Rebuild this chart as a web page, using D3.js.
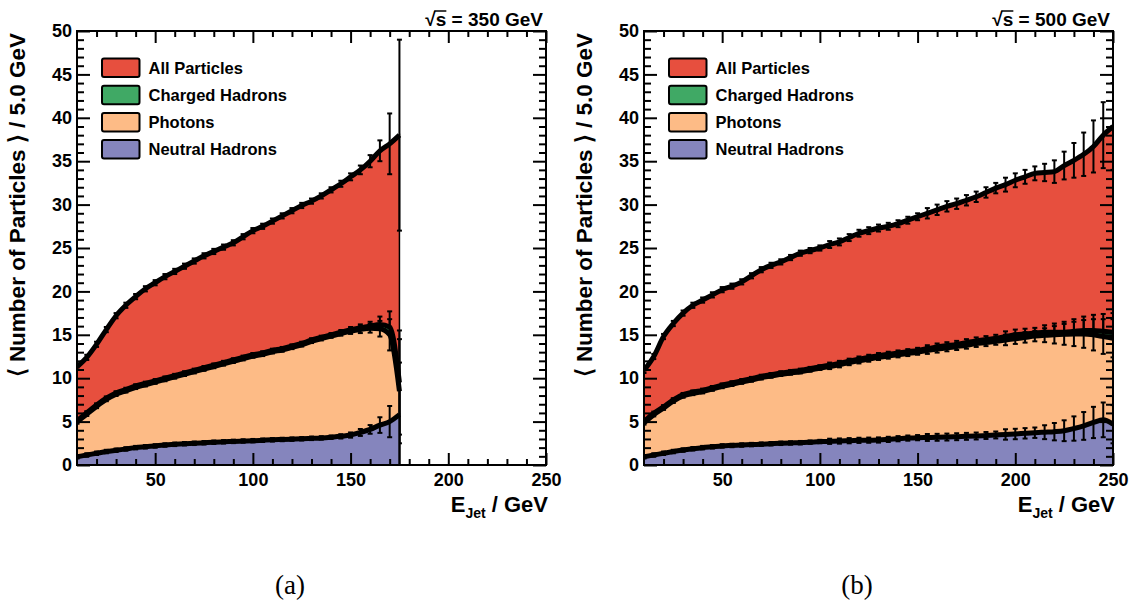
<!DOCTYPE html>
<html><head><meta charset="utf-8">
<script src="https://cdn.jsdelivr.net/npm/d3@7"></script>
<style>
html,body{margin:0;padding:0;background:#fff;}
svg{display:block;}
text{font-family:"Liberation Sans",Arial,Helvetica,sans-serif;font-weight:bold;fill:#000;}
</style></head><body>
<svg id="c" width="1135" height="602"></svg>
<script>
// ---------- data: panel (a), sqrt(s) = 350 GeV ----------
const energyA = [10,15,20,25,30,35,40,45,50,55,60,65,70,75,80,85,90,95,100,105,110,115,120,125,130,135,140,145,150,155,160,165,170,175];
const allA = [11.3,12.4,13.9,15.6,17.2,18.4,19.4,20.3,21.0,21.7,22.3,22.9,23.5,24.1,24.6,25.1,25.6,26.3,27.0,27.5,28.1,28.7,29.3,29.9,30.4,31.0,31.7,32.4,33.2,34.0,35.0,36.2,37.0,38.0];
const chargedA = [5.1,6.0,6.9,7.7,8.3,8.7,9.1,9.4,9.7,10.0,10.3,10.6,10.9,11.2,11.5,11.8,12.1,12.4,12.7,12.9,13.2,13.4,13.7,14.0,14.4,14.7,15.0,15.3,15.6,15.8,16.0,16.2,15.9,9.5];
const photonsA = [4.95,5.85,6.75,7.55,8.15,8.55,8.95,9.25,9.55,9.85,10.15,10.45,10.75,11.05,11.35,11.65,11.95,12.25,12.55,12.75,13.05,13.25,13.55,13.85,14.25,14.55,14.85,15.15,15.4,15.6,15.75,15.7,15.0,8.5];
const neutralA = [0.95,1.15,1.35,1.55,1.7,1.85,2.0,2.1,2.2,2.3,2.38,2.45,2.5,2.56,2.62,2.67,2.72,2.76,2.8,2.85,2.9,2.94,2.98,3.02,3.07,3.12,3.2,3.3,3.45,3.75,4.1,4.6,5.0,5.8];
const errAllA = [0.3,0.3,0.3,0.3,0.3,0.3,0.3,0.3,0.3,0.3,0.3,0.3,0.3,0.3,0.3,0.3,0.3,0.3,0.3,0.3,0.3,0.3,0.3,0.3,0.3,0.3,0.3,0.35,0.4,0.5,0.7,1.2,3.5,11];
const errSubA = [0.2,0.2,0.2,0.2,0.2,0.2,0.2,0.2,0.2,0.2,0.2,0.2,0.2,0.2,0.2,0.2,0.2,0.2,0.2,0.2,0.2,0.2,0.2,0.2,0.2,0.2,0.2,0.25,0.3,0.4,0.5,0.9,1.8,6];

// ---------- data: panel (b), sqrt(s) = 500 GeV ----------
const energyB = [10,15,20,25,30,35,40,45,50,55,60,65,70,75,80,85,90,95,100,105,110,115,120,125,130,135,140,145,150,155,160,165,170,175,180,185,190,195,200,205,210,215,220,225,230,235,240,245,250];
const allB = [10.9,12.5,14.8,16.3,17.5,18.4,19.0,19.6,20.2,20.6,21.1,21.8,22.5,23.0,23.4,23.9,24.4,24.7,25.0,25.4,25.7,26.2,26.7,27.0,27.3,27.5,27.8,28.2,28.6,29.0,29.4,29.8,30.1,30.5,30.9,31.4,31.9,32.3,32.8,33.2,33.6,33.7,33.8,34.5,35.1,35.8,36.7,38.0,39.0];
const chargedB = [5.0,5.95,6.7,7.5,8.1,8.4,8.6,8.9,9.2,9.45,9.7,9.95,10.2,10.4,10.6,10.75,10.9,11.1,11.3,11.5,11.7,11.95,12.2,12.4,12.6,12.75,12.9,13.05,13.2,13.4,13.6,13.75,13.9,14.1,14.3,14.45,14.6,14.8,15.0,15.1,15.2,15.3,15.3,15.3,15.4,15.5,15.5,15.4,15.3];
const photonsB = [4.85,5.8,6.55,7.35,7.95,8.25,8.45,8.75,9.05,9.3,9.55,9.8,10.05,10.25,10.45,10.6,10.75,10.95,11.15,11.35,11.55,11.8,12.0,12.2,12.4,12.55,12.7,12.85,13.0,13.2,13.35,13.5,13.65,13.8,14.0,14.1,14.25,14.4,14.55,14.7,14.85,14.95,15.0,15.05,15.1,15.1,15.0,14.8,14.6];
const neutralB = [0.95,1.15,1.35,1.55,1.72,1.87,2.0,2.1,2.2,2.25,2.3,2.35,2.4,2.45,2.5,2.54,2.57,2.63,2.7,2.73,2.76,2.8,2.84,2.86,2.88,2.95,3.03,3.1,3.15,3.17,3.19,3.22,3.26,3.3,3.34,3.4,3.46,3.52,3.57,3.65,3.72,3.78,3.84,3.95,4.2,4.5,4.9,5.2,4.7];
const errAllB = [0.3,0.3,0.3,0.3,0.3,0.3,0.3,0.3,0.3,0.3,0.3,0.3,0.3,0.3,0.3,0.3,0.3,0.3,0.3,0.4,0.4,0.4,0.4,0.4,0.4,0.4,0.4,0.4,0.4,0.6,0.6,0.6,0.6,0.6,0.6,0.6,0.6,0.8,0.8,0.8,0.8,1.0,1.3,1.6,2.0,2.5,3.0,3.8,5.0];
const errSubB = [0.2,0.2,0.2,0.2,0.2,0.2,0.2,0.2,0.2,0.2,0.2,0.2,0.2,0.2,0.2,0.2,0.2,0.2,0.2,0.3,0.3,0.3,0.3,0.3,0.3,0.3,0.3,0.3,0.3,0.4,0.4,0.4,0.4,0.4,0.4,0.4,0.4,0.6,0.6,0.6,0.6,0.8,1.0,1.2,1.4,1.6,1.8,2.0,2.2];

// ---------- labels & ticks ----------
const seriesNames = ["All Particles","Charged Hadrons","Photons","Neutral Hadrons"];
const seriesColors = ["#e74f3e","#40a965","#fdbb86","#8585bd"];
const xMajorTicks = [50,100,150,200,250];
const xMinorTicks = [20,30,40,60,70,80,90,110,120,130,140,160,170,180,190,210,220,230,240];
const yMajorTicks = [0,5,10,15,20,25,30,35,40,45,50];
const yMinorTicks = [1,2,3,4,6,7,8,9,11,12,13,14,16,17,18,19,21,22,23,24,26,27,28,29,31,32,33,34,36,37,38,39,41,42,43,44,46,47,48,49];
const xDomain = [10,250];
const yDomain = [0,50];
const titles = ["350 GeV","500 GeV"];
const captions = ["(a)","(b)"];
const yTitle = "\u27E8 Number of Particles \u27E9 / 5.0 GeV";

const svg = d3.select("#c");

function panel(idx, left, energy, all, charged, photons, neutral, errAll, errSub) {
  const W = 469, top = 31, bottom = 465;
  const x = d3.scaleLinear(xDomain, [left, left + W]);
  const y = d3.scaleLinear(yDomain, [bottom, top]);
  const g = svg.append("g");
  const clipId = "clip" + idx;
  svg.append("clipPath").attr("id", clipId).append("rect")
    .attr("x", left).attr("y", top).attr("width", W).attr("height", bottom - top);
  const plot = g.append("g").attr("clip-path", `url(#${clipId})`);

  const series = [all, charged, photons, neutral];
  const errs = [errAll, errSub, errSub, errSub];
  const area = d3.area().x(d => x(d.e)).y0(y(0)).y1(d => y(d.v)).curve(d3.curveMonotoneX);
  const line = d3.line().x(d => x(d.e)).y(d => y(d.v)).curve(d3.curveMonotoneX);

  series.forEach((vals, si) => {
    const pts = vals.map((v, i) => ({e: energy[i], v: v, err: errs[si][i]}));
    plot.append("path").datum(pts).attr("d", area)
      .attr("fill", seriesColors[si]).attr("stroke", "#000").attr("stroke-width", 1.5);
    plot.append("path").datum(pts).attr("d", line)
      .attr("fill", "none").attr("stroke", "#000").attr("stroke-width", 5)
      .attr("stroke-linejoin", "round");
    const eb = plot.append("g").attr("stroke", "#000").attr("stroke-width", 2);
    pts.forEach(p => {
      const xx = x(p.e), y1 = y(p.v - p.err), y2 = y(p.v + p.err);
      eb.append("line").attr("x1", xx).attr("x2", xx).attr("y1", y1).attr("y2", y2);
      eb.append("line").attr("x1", xx - 2.5).attr("x2", xx + 2.5).attr("y1", y1).attr("y2", y1);
      eb.append("line").attr("x1", xx - 2.5).attr("x2", xx + 2.5).attr("y1", y2).attr("y2", y2);
    });
  });

  // axes
  const styleAxis = sel => {
    sel.select(".domain").remove();
    sel.selectAll(".tick line").attr("stroke", "#000").attr("stroke-width", 2);
    sel.selectAll(".tick text").style("font-size", "18px").attr("fill", "#000");
  };
  g.append("g").attr("transform", `translate(0,${bottom})`)
    .call(d3.axisBottom(x).tickValues(xMajorTicks).tickSize(-12).tickPadding(8).tickFormat(d3.format("d"))).call(styleAxis);
  g.append("g").attr("transform", `translate(0,${bottom})`)
    .call(d3.axisBottom(x).tickValues(xMinorTicks).tickSize(-6).tickFormat("")).call(styleAxis);
  g.append("g").attr("transform", `translate(0,${top})`)
    .call(d3.axisTop(x).tickValues(xMajorTicks).tickSize(-12).tickFormat("")).call(styleAxis);
  g.append("g").attr("transform", `translate(0,${top})`)
    .call(d3.axisTop(x).tickValues(xMinorTicks).tickSize(-6).tickFormat("")).call(styleAxis);
  g.append("g").attr("transform", `translate(${left},0)`)
    .call(d3.axisLeft(y).tickValues(yMajorTicks).tickSize(-13).tickPadding(5).tickFormat(d3.format("d"))).call(styleAxis);
  g.append("g").attr("transform", `translate(${left},0)`)
    .call(d3.axisLeft(y).tickValues(yMinorTicks).tickSize(-7).tickFormat("")).call(styleAxis);
  g.append("g").attr("transform", `translate(${left + W},0)`)
    .call(d3.axisRight(y).tickValues(yMajorTicks).tickSize(-13).tickFormat("")).call(styleAxis);
  g.append("g").attr("transform", `translate(${left + W},0)`)
    .call(d3.axisRight(y).tickValues(yMinorTicks).tickSize(-7).tickFormat("")).call(styleAxis);
  g.append("rect").attr("x", left).attr("y", top).attr("width", W).attr("height", bottom - top)
    .attr("fill", "none").attr("stroke", "#000").attr("stroke-width", 2);

  // legend
  const lg = g.append("g");
  seriesNames.forEach((nm, i) => {
    const by = 58.5 + i * 27.2;
    lg.append("rect").attr("x", left + 25).attr("y", by).attr("width", 37.5).attr("height", 18.5)
      .attr("rx", 2).attr("fill", seriesColors[i]).attr("stroke", "#000").attr("stroke-width", 2);
    lg.append("text").attr("x", left + 71.5).attr("y", by + 15).style("font-size", "16.5px").text(nm);
  });

  // x title
  const xt = g.append("text").attr("x", left + W + 2).attr("y", 512).attr("text-anchor", "end").style("font-size", "22px");
  xt.append("tspan").text("E");
  xt.append("tspan").attr("dy", 6).style("font-size", "14px").text("Jet");
  xt.append("tspan").attr("dy", -6).text(" / GeV");

  // y title
  g.append("text").attr("transform", `translate(${left - 52},${top + 2}) rotate(-90)`)
    .attr("text-anchor", "end").style("font-size", "22.5px").text(yTitle);

  // top-right energy label
  const tt = g.append("text").attr("x", left + W - 3).attr("y", 26).attr("text-anchor", "end").style("font-size", "19px");
  tt.append("tspan").text("\u221A");
  tt.append("tspan").text("s");
  tt.append("tspan").text(" = " + titles[idx]);
  const node = tt.node();
  try {
    const r0 = node.getExtentOfChar(0), r1 = node.getExtentOfChar(1);
    g.append("line").attr("x1", r0.x + r0.width - 1.5).attr("x2", r1.x + r1.width)
      .attr("y1", 26 - 15).attr("y2", 26 - 15).attr("stroke", "#000").attr("stroke-width", 1.5);
  } catch (e) {}

  // caption
  svg.append("text").attr("x", left + 213).attr("y", 594).attr("text-anchor", "middle")
    .style("font-family", "'Liberation Serif','Times New Roman',serif").style("font-weight", "normal")
    .style("font-size", "27px").text(captions[idx]);
}

panel(0, 77, energyA, allA, chargedA, photonsA, neutralA, errAllA, errSubA);
panel(1, 644, energyB, allB, chargedB, photonsB, neutralB, errAllB, errSubB);
</script>
</body></html>
